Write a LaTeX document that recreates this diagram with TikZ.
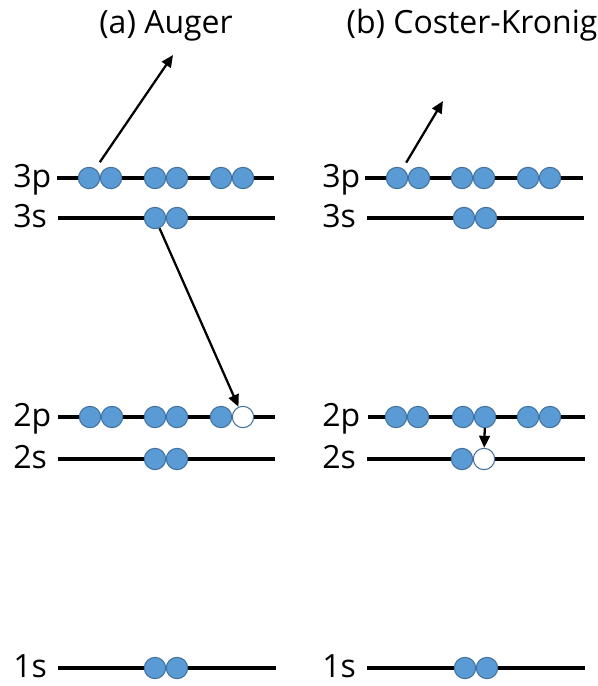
\documentclass[tikz,border=0pt]{standalone}
\usepackage{fontspec}
\setmainfont{Open Sans}
\usepackage{color}
\usetikzlibrary{arrows.meta,backgrounds}

\definecolor{elecfill}{HTML}{5B9BD5}
\definecolor{elecdraw}{HTML}{41719C}

\tikzset{
  elec/.style={circle,draw=elecdraw,fill=elecfill,line width=0.8pt,minimum size=16pt,inner sep=0pt},
  hole/.style={elec,fill=white},
  level/.style={line width=3pt},
  jump/.style={-{Triangle[length=9pt,width=8pt]},line width=1.7pt},
  lvllab/.style={anchor=base west,inner sep=0pt,font=\fontsize{24}{28}\selectfont},
  title/.style={anchor=base,inner sep=0pt,font=\fontsize{24}{28}\selectfont}
}

\begin{document}
\begin{tikzpicture}[x=0.75pt,y=0.75pt,yscale=-1,xscale=1]
\useasboundingbox (0,0) rectangle (598,686);

% Titles
\node [title] (tita) at (166,33) {(a) Auger};
\node [title] (titb) at (472,33) {(b) Coster-Kronig};

% Level lines (a)
\draw [level] (57,178) -- (274,178);
\draw [level] (58,218) -- (275,218);
\draw [level] (58,417) -- (275,417);
\draw [level] (58,459) -- (275,459);
\draw [level] (58,668) -- (276,668);
% Level lines (b)
\draw [level] (365,178) -- (583,178);
\draw [level] (367,218) -- (584,218);
\draw [level] (368,417) -- (585,417);
\draw [level] (367,459) -- (585,459);
\draw [level] (367,668) -- (585,668);

% Level labels
\node [lvllab] (la3p) at (13,187) {3p};
\node [lvllab] (la3s) at (13,227) {3s};
\node [lvllab] (la2p) at (13,426) {2p};
\node [lvllab] (la2s) at (13,468) {2s};
\node [lvllab] (la1s) at (13,677) {1s};
\node [lvllab] (lb3p) at (322,187) {3p};
\node [lvllab] (lb3s) at (322,227) {3s};
\node [lvllab] (lb2p) at (322,426) {2p};
\node [lvllab] (lb2s) at (322,468) {2s};
\node [lvllab] (lb1s) at (322,677) {1s};

% Electrons (a)
\node [elec] (a3p1) at (89,178) {};
\node [elec] (a3p2) at (111,178) {};
\node [elec] (a3p3) at (155,178) {};
\node [elec] (a3p4) at (177,178) {};
\node [elec] (a3p5) at (221,178) {};
\node [elec] (a3p6) at (243,178) {};
\node [elec] (a3s1) at (155,218) {};
\node [elec] (a3s2) at (177,218) {};
\node [elec] (a2p1) at (90,417) {};
\node [elec] (a2p2) at (112,417) {};
\node [elec] (a2p3) at (155,417) {};
\node [elec] (a2p4) at (177,417) {};
\node [elec] (a2p5) at (221,417) {};
\node [hole] (a2p6) at (243,417) {};
\node [elec] (a2s1) at (155,459) {};
\node [elec] (a2s2) at (177,459) {};
\node [elec] (a1s1) at (155,668) {};
\node [elec] (a1s2) at (177,668) {};

% Electrons (b)
\node [elec] (b3p1) at (397,178) {};
\node [elec] (b3p2) at (419,178) {};
\node [elec] (b3p3) at (462,178) {};
\node [elec] (b3p4) at (484,178) {};
\node [elec] (b3p5) at (528,178) {};
\node [elec] (b3p6) at (550,178) {};
\node [elec] (b3s1) at (464,218) {};
\node [elec] (b3s2) at (486,218) {};
\node [elec] (b2p1) at (396,417) {};
\node [elec] (b2p2) at (418,417) {};
\node [elec] (b2p3) at (463,417) {};
\node [elec] (b2p4) at (485,417) {};
\node [elec] (b2p5) at (528,417) {};
\node [elec] (b2p6) at (550,417) {};
\node [elec] (b2s1) at (462,459) {};
\node [hole] (b2s2) at (484,459) {};
\node [elec] (b1s1) at (465,668) {};
\node [elec] (b1s2) at (487,668) {};

% Transitions
\coordinate (aout) at (173,55);
\coordinate (bout) at (443,101);
\draw [jump,shorten <=6pt] (a3p1) -- (aout);
\draw [jump] (a3s1) -- (a2p6);
\draw [jump,shorten <=5pt] (b3p1) -- (bout);
\draw [jump] (b2p4) -- (b2s2);

\end{tikzpicture}
\end{document}
